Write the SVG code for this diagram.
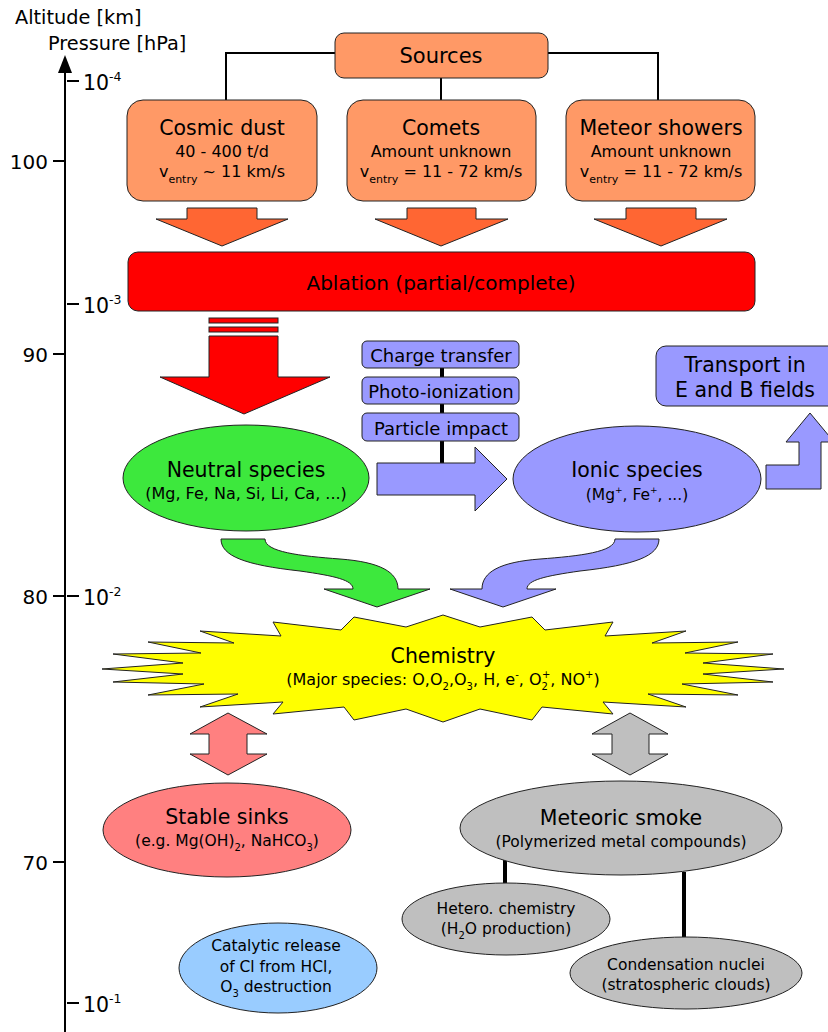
<svg xmlns="http://www.w3.org/2000/svg" width="828" height="1032" viewBox="0 0 828 1032">
<style>
text{font-family:"DejaVu Sans","Liberation Sans",sans-serif;fill:#000}
.t{font-size:20.5px;text-anchor:middle}
.s{font-size:16px;text-anchor:middle}
.x{font-size:15.5px;text-anchor:middle}
.b{font-size:18px;text-anchor:middle}
.ax{font-size:19.3px}
.num{font-size:20px;text-anchor:end}
.pr{font-size:20.5px}
.sh{stroke:#222;stroke-width:1}
.ln{stroke:#000;stroke-width:2;fill:none}
.thick{stroke:#000;stroke-width:4}
</style>
<rect width="828" height="1032" fill="#fff"/>

<g id="axis">
<line x1="65" y1="68" x2="65" y2="1032" stroke="#000" stroke-width="2"/>
<polygon points="65,55 58,73 72,73" fill="#000"/>
<text x="15" y="24" class="ax">Altitude [km]</text>
<text x="48" y="50" class="ax">Pressure [hPa]</text>
<g stroke="#000" stroke-width="2">
<line x1="53" y1="161" x2="65" y2="161"/>
<line x1="53" y1="354" x2="65" y2="354"/>
<line x1="53" y1="596" x2="65" y2="596"/>
<line x1="53" y1="862" x2="65" y2="862"/>
<line x1="67" y1="81" x2="79" y2="81"/>
<line x1="67" y1="304" x2="79" y2="304"/>
<line x1="67" y1="596" x2="79" y2="596"/>
<line x1="67" y1="1003" x2="79" y2="1003"/>
</g>
<text x="48" y="169" class="num">100</text>
<text x="48" y="362" class="num">90</text>
<text x="48" y="604" class="num">80</text>
<text x="48" y="870" class="num">70</text>
<text x="83" y="90" class="pr">10<tspan font-size="12.5" dy="-9">-4</tspan></text>
<text x="83" y="313" class="pr">10<tspan font-size="12.5" dy="-9">-3</tspan></text>
<text x="83" y="605" class="pr">10<tspan font-size="12.5" dy="-9">-2</tspan></text>
<text x="83" y="1012" class="pr">10<tspan font-size="12.5" dy="-9">-1</tspan></text>
</g>

<g id="connectors">
<polyline class="ln" points="335,53 226,53 226,100"/>
<polyline class="ln" points="548,53 658,53 658,100"/>
<line class="ln" x1="441" y1="78" x2="441" y2="100"/>
<line class="thick" x1="442" y1="368" x2="442" y2="377"/>
<line class="thick" x1="442" y1="404" x2="442" y2="413"/>
<line class="thick" x1="442" y1="441" x2="442" y2="463"/>
<line class="thick" x1="505" y1="860" x2="505" y2="884"/>
<line class="thick" x1="684" y1="872" x2="684" y2="937"/>
</g>

<g id="sources">
<rect x="335" y="33" width="213" height="45" rx="9" fill="#FF9966" class="sh"/>
<text x="441" y="63" class="t" style="font-size:21px">Sources</text>
</g>

<g id="cosmic-dust">
<rect x="127" y="100" width="190" height="101" rx="16" fill="#FF9966" class="sh"/>
<text x="222" y="135" class="t">Cosmic dust</text>
<text x="222" y="157" class="s">40 - 400 t/d</text>
<text x="222" y="177" class="s">v<tspan font-size="11" dy="6">entry</tspan><tspan dy="-6"> ~ 11 km/s</tspan></text>
</g>

<g id="comets">
<rect x="347" y="100" width="189" height="101" rx="16" fill="#FF9966" class="sh"/>
<text x="441" y="135" class="t">Comets</text>
<text x="441" y="157" class="s">Amount unknown</text>
<text x="441" y="177" class="s">v<tspan font-size="11" dy="6">entry</tspan><tspan dy="-6"> = 11 - 72 km/s</tspan></text>
</g>

<g id="meteor-showers">
<rect x="566" y="100" width="189" height="101" rx="16" fill="#FF9966" class="sh"/>
<text x="661" y="135" class="t">Meteor showers</text>
<text x="661" y="157" class="s">Amount unknown</text>
<text x="661" y="177" class="s">v<tspan font-size="11" dy="6">entry</tspan><tspan dy="-6"> = 11 - 72 km/s</tspan></text>
</g>

<g id="source-arrows" fill="#FF6633" class="sh">
<polygon points="187,208 257,208 257,219 288,219 222,246 156,219 187,219"/>
<polygon points="407,208 476,208 476,219 508,219 441,246 375,219 407,219"/>
<polygon points="626,208 696,208 696,219 727,219 661,246 594,219 626,219"/>
</g>

<g id="ablation">
<rect x="128" y="252" width="627" height="59" rx="10" fill="#FF0000" class="sh"/>
<text x="441" y="290" class="t" style="font-size:20px">Ablation (partial/complete)</text>
</g>

<g id="ablation-arrow" fill="#FF0000" class="sh">
<rect x="209" y="318" width="69" height="5"/>
<rect x="209" y="327" width="69" height="5"/>
<polygon points="209,336 278,336 278,377 330,377 244,414 160,377 209,377"/>
</g>

<g id="neutral-species">
<ellipse cx="246" cy="478" rx="123" ry="53" fill="#3DE83D" class="sh"/>
<text x="246" y="477" class="t">Neutral species</text>
<text x="246" y="499" class="s">(Mg, Fe, Na, Si, Li, Ca, ...)</text>
</g>

<g id="charge-transfer">
<rect x="362" y="341" width="157" height="27" rx="5" fill="#9999FF" class="sh"/>
<text x="441" y="362" class="b">Charge transfer</text>
</g>
<g id="photo-ionization">
<rect x="362" y="377" width="157" height="27" rx="5" fill="#9999FF" class="sh"/>
<text x="441" y="398" class="b">Photo-ionization</text>
</g>
<g id="particle-impact">
<rect x="362" y="413" width="157" height="28" rx="5" fill="#9999FF" class="sh"/>
<text x="441" y="435" class="b">Particle impact</text>
</g>

<g id="ionization-arrow">
<polygon points="377,463 475,463 475,447 507,479 475,511 475,495 377,495" fill="#9999FF" class="sh"/>
</g>

<g id="ionic-species">
<ellipse cx="637" cy="479" rx="124" ry="53" fill="#9999FF" class="sh"/>
<text x="637" y="477" class="t">Ionic species</text>
<text x="637" y="500" class="x">(Mg<tspan font-size="9" dy="-7">+</tspan><tspan dy="7">, Fe</tspan><tspan font-size="9" dy="-7">+</tspan><tspan dy="7">, ...)</tspan></text>
</g>

<g id="transport">
<rect x="656" y="346" width="190" height="60" rx="10" fill="#9999FF" class="sh"/>
<text x="745" y="372" class="t">Transport in</text>
<text x="745" y="397" class="t">E and B fields</text>
</g>

<g id="transport-arrow">
<polygon points="766,465 799,465 799,442 786,442 810,413 834,442 821,442 821,489 766,489" fill="#9999FF" class="sh"/>
</g>

<g id="curved-arrows" class="sh">
<path d="M221,539 H265 C265,552 300,556 340,559 C380,562 398,572 398,589 H430 L377,607 L324,589 H353 C353,580 335,576 300,571 C245,565 221,556 221,539 Z" fill="#3DE83D"/>
<path d="M221,539 H265 C265,552 300,556 340,559 C380,562 398,572 398,589 H430 L377,607 L324,589 H353 C353,580 335,576 300,571 C245,565 221,556 221,539 Z" fill="#9999FF" transform="matrix(-1,0,0,1,880,0)"/>
</g>

<g id="chemistry">
<polygon fill="#FFFF00" class="sh" points="443,615 480,627 532,617 545,630 613,622 605,636 686,631 652,643 738,642 685,653 773,654 703,663 784,669 703,674 773,682 682,684 738,695 648,694 686,707 603,702 613,714 542,707 532,720 480,709 443,722 406,709 354,720 344,707 273,714 283,702 200,707 238,694 148,695 204,684 113,682 183,674 102,669 183,663 113,654 201,653 148,642 234,643 200,631 281,636 273,622 341,630 354,617 406,627"/>
<text x="443" y="663" class="t">Chemistry</text>
<text x="443" y="685" class="s">(Major species: O,O<tspan font-size="10" dy="5">2</tspan><tspan dy="-5">,O</tspan><tspan font-size="10" dy="5">3</tspan><tspan dy="-5">, H, e</tspan><tspan font-size="10" dy="-7">-</tspan><tspan dy="7">, O</tspan><tspan font-size="10" dy="5">2</tspan><tspan font-size="10" dx="-6" dy="-12">+</tspan><tspan dy="7">, NO</tspan><tspan font-size="10" dy="-7">+</tspan><tspan dy="7">)</tspan></text>
</g>

<g id="sink-arrow">
<polygon points="228,713 267,734 247,734 247,754 267,754 228,775 190,754 209,754 209,734 190,734" fill="#FF8080" class="sh"/>
</g>
<g id="smoke-arrow">
<polygon points="630,713 668,734 649,734 649,754 668,754 630,775 592,754 612,754 612,734 592,734" fill="#BFBFBF" class="sh"/>
</g>

<g id="stable-sinks">
<ellipse cx="227" cy="830" rx="124" ry="47" fill="#FF8080" class="sh"/>
<text x="227" y="824" class="t">Stable sinks</text>
<text x="227" y="846" class="x">(e.g. Mg(OH)<tspan font-size="10" dy="5">2</tspan><tspan dy="-5">, NaHCO</tspan><tspan font-size="10" dy="5">3</tspan><tspan dy="-5">)</tspan></text>
</g>

<g id="catalytic">
<ellipse cx="278" cy="968" rx="99" ry="45" fill="#99CCFF" class="sh"/>
<text x="276" y="951" class="x">Catalytic release</text>
<text x="276" y="972" class="x">of Cl from HCl,</text>
<text x="276" y="992" class="x">O<tspan font-size="10" dy="5">3</tspan><tspan dy="-5"> destruction</tspan></text>
</g>

<g id="meteoric-smoke">
<ellipse cx="621" cy="828" rx="161" ry="47" fill="#BFBFBF" class="sh"/>
<text x="621" y="825" class="t">Meteoric smoke</text>
<text x="621" y="847" class="x">(Polymerized metal compounds)</text>
</g>

<g id="hetero-chemistry">
<ellipse cx="506" cy="919" rx="104" ry="36" fill="#BFBFBF" class="sh"/>
<text x="506" y="914" class="x">Hetero. chemistry</text>
<text x="506" y="934" class="x">(H<tspan font-size="10" dy="5">2</tspan><tspan dy="-5">O production)</tspan></text>
</g>

<g id="condensation-nuclei">
<ellipse cx="686" cy="973" rx="116" ry="36" fill="#BFBFBF" class="sh"/>
<text x="686" y="970" class="x">Condensation nuclei</text>
<text x="686" y="990" class="x">(stratospheric clouds)</text>
</g>
</svg>
